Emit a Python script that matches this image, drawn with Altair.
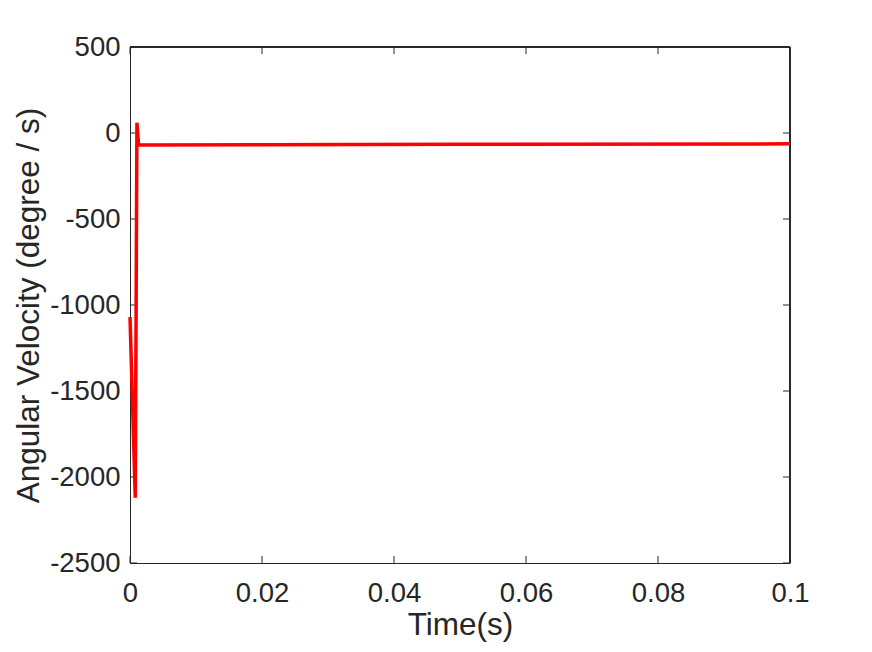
import altair as alt
import pandas as pd

time_s = [0.0, 0.0008, 0.00105, 0.0013, 0.02, 0.05, 0.1]
ang_vel = [-1070, -2120, 60, -70, -68, -66, -63]
x_ticks = [0, 0.02, 0.04, 0.06, 0.08, 0.1]
y_ticks = [-2500, -2000, -1500, -1000, -500, 0, 500]

W, H = 660, 516
FONT = "Liberation Sans"
TXT = "#262626"
df = pd.DataFrame({"t": time_s, "w": ang_vel})
xs = alt.Scale(domain=[0, 0.1], nice=False)
ys = alt.Scale(domain=[-2500, 500], nice=False)

common = dict(ticks=False, grid=False, labelFontSize=27.5, titleFontSize=31.5,
              titleFontWeight="normal", labelColor=TXT, titleColor=TXT,
              domainColor=TXT, labelFont=FONT, titleFont=FONT, labelFlush=False,
              labelExpr="datum.value + ''")

line = alt.Chart(df).mark_line(color="#ff0000", strokeWidth=3.5, clip=False).encode(
    x=alt.X("t:Q", scale=xs, title="Time(s)",
            axis=alt.Axis(values=x_ticks, labelPadding=16, titlePadding=3, **common)),
    y=alt.Y("w:Q", scale=ys, title="Angular Velocity (degree / s)",
            axis=alt.Axis(values=y_ticks, labelPadding=10, titlePadding=4, **common)),
)

xt = pd.DataFrame({"t": x_ticks})
yt = pd.DataFrame({"w": y_ticks})
xb = alt.Chart(xt).mark_rule(color=TXT).encode(x=alt.X("t:Q", scale=xs), y=alt.value(H), y2=alt.value(H - 7))
xtop = alt.Chart(xt).mark_rule(color=TXT).encode(x=alt.X("t:Q", scale=xs), y=alt.value(0), y2=alt.value(7))
yl = alt.Chart(yt).mark_rule(color=TXT).encode(y=alt.Y("w:Q", scale=ys), x=alt.value(0), x2=alt.value(7))
yr = alt.Chart(yt).mark_rule(color=TXT).encode(y=alt.Y("w:Q", scale=ys), x=alt.value(W), x2=alt.value(W - 7))
top = alt.Chart(xt).mark_rule(color=TXT).encode(x=alt.value(0), x2=alt.value(W), y=alt.value(0))
right = alt.Chart(xt).mark_rule(color=TXT).encode(x=alt.value(W), y=alt.value(0), y2=alt.value(H))

chart = alt.layer(xb, xtop, yl, yr, top, right, line).properties(
    width=W, height=H,
    autosize=alt.AutoSizeParams(type="none"),
    padding={"left": 122, "top": 39, "right": 74, "bottom": 81},
).configure_view(stroke=None).configure(background="white")

chart.save("out.html", embed_options={"renderer": "svg", "actions": False})
